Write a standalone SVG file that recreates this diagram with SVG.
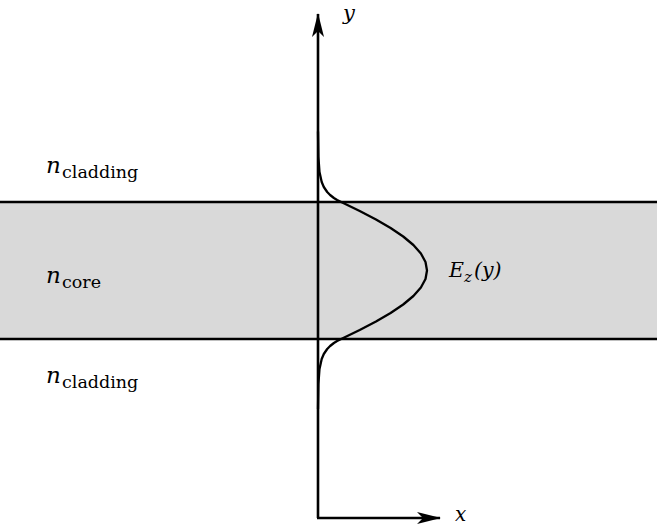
<svg xmlns="http://www.w3.org/2000/svg" width="657" height="527" viewBox="0 0 657 527">
<style>
.ln{stroke:#000;stroke-width:2.6;fill:none}
.crv{stroke:#000;stroke-width:2.3;fill:none;stroke-linejoin:round}
.it{font-family:"DejaVu Serif","Liberation Serif",serif;font-style:italic;fill:#000}
.sub{font-family:"DejaVu Serif","Liberation Serif",serif;fill:#000}
</style>
<defs>
<marker id="ah" viewBox="0 0 24 12" refX="23" refY="6" markerWidth="24" markerHeight="12" markerUnits="userSpaceOnUse" orient="auto">
<path d="M0,0 L24,6 L0,12 L6,6 Z" fill="#000"/>
</marker>
</defs>
<rect id="core" x="0" y="202" width="657" height="137" fill="#d9d9d9"/>
<g id="interfaces">
<line class="ln" x1="0" y1="202" x2="657" y2="202"/>
<line class="ln" x1="0" y1="339" x2="657" y2="339"/>
</g>
<g id="connectors">
<path class="ln" d="M318,518 L318,14" marker-end="url(#ah)"/>
<path class="ln" d="M317,518 L440,518" marker-end="url(#ah)"/>
</g>
<g id="field">
<polyline class="crv" points="318,131.5 318.4,157 319.5,172 321.7,182 323.8,187 327.2,192 330.1,195 333.9,198 337.1,200 341.2,202 359.7,211 376,219.5 390.6,228 403.2,236.5 413.4,245 420.9,253.5 425.5,262 427,270.5 425.5,279 420.9,287.5 413.4,296 403.2,304.5 390.6,313 376,321.5 359.7,330 341.2,339 337.1,341 333.9,343 330.1,346 327.2,349 323.8,354 321.7,359 319.5,369 318.4,384 318,409"/>
</g>
<g id="labels">
<text class="it" x="343" y="20" font-size="21">y</text>
<text class="it" x="455" y="521" font-size="20">x</text>
<text id="clad-top"><tspan class="it" x="46" y="173" font-size="23">n</tspan><tspan class="sub" x="62" y="178" font-size="17.5">cladding</tspan></text>
<text id="core-lbl"><tspan class="it" x="46" y="283" font-size="23">n</tspan><tspan class="sub" x="62" y="288" font-size="17.5">core</tspan></text>
<text id="clad-bot"><tspan class="it" x="46" y="383" font-size="23">n</tspan><tspan class="sub" x="62" y="388" font-size="17.5">cladding</tspan></text>
<text id="ez"><tspan class="it" x="449" y="277" font-size="20.5">E</tspan><tspan class="it" x="464" y="282" font-size="15">z</tspan><tspan class="it" x="474" y="277" font-size="20.5">(y)</tspan></text>
</g>
</svg>
